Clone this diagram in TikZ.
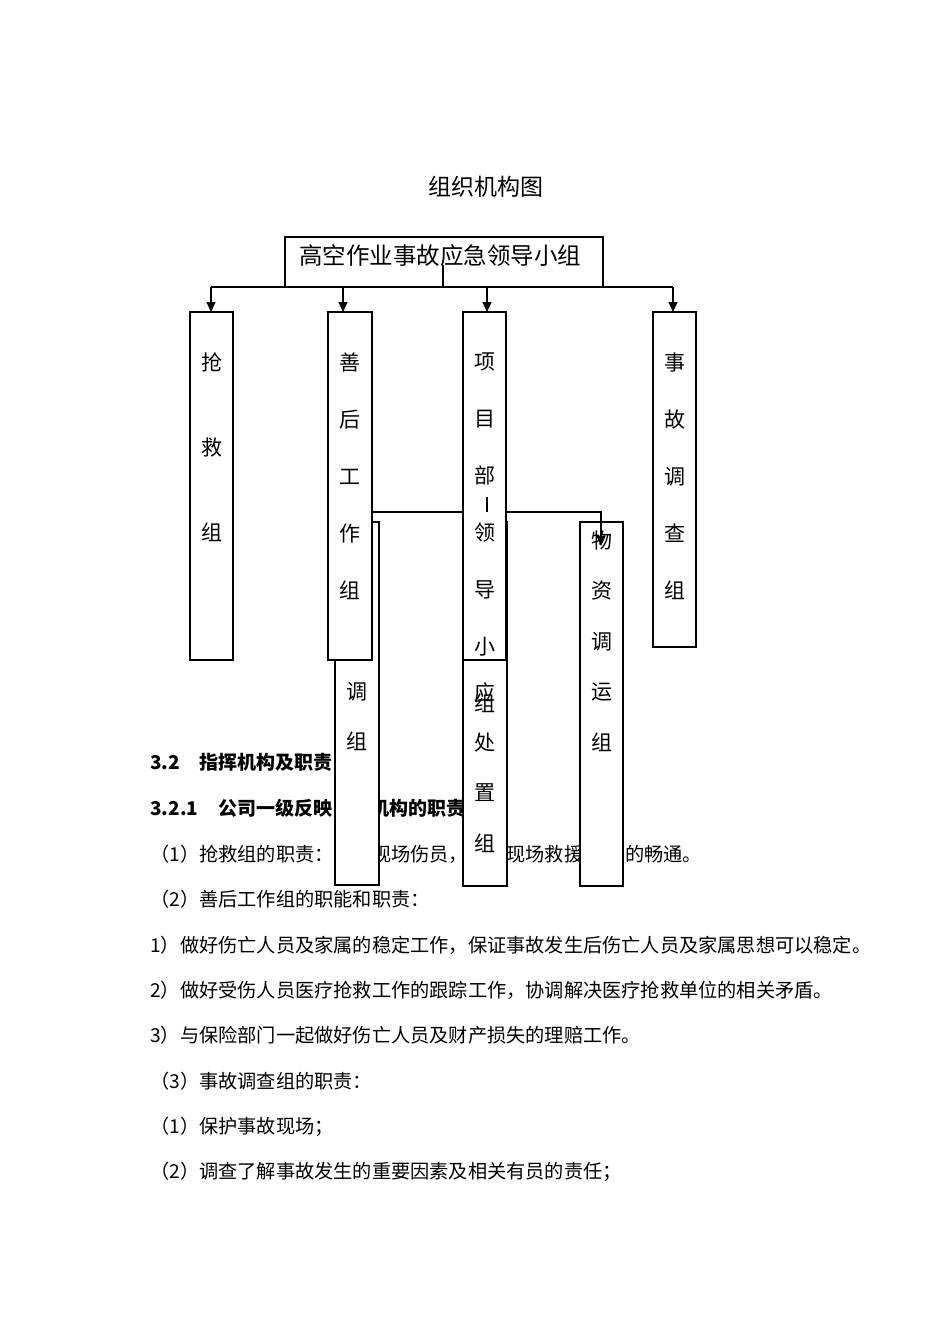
\documentclass[tikz,border=0pt]{standalone}
\usepackage{fontspec}
\setmainfont{Noto Sans CJK SC}
\usetikzlibrary{arrows.meta}
\begin{document}
\begin{tikzpicture}[x=1pt,y=-1pt,
  bx/.style={draw=black,fill=white,line width=1.1pt,inner sep=0pt,outer sep=0pt},
  vt/.style={align=center,inner sep=0pt,font=\fontsize{21}{#1}\selectfont},
  para/.style={anchor=west,inner sep=0pt,font=\fontsize{19.2}{19.2}\selectfont},
  head/.style={anchor=west,inner sep=0pt,font=\bfseries\fontsize{19}{19}\selectfont},
  ln/.style={line width=1.1pt},
  arr/.style={line width=1.1pt,-{Triangle[length=10pt,width=9pt]}}]
\useasboundingbox (0,0) rectangle (950,1344);

% title
\node[inner sep=0pt,font=\fontsize{23}{23}\selectfont] (title) at (486,187) {组织机构图};

% paragraph text
\node[head] (h1) at (150,762) {3.2\hspace{19pt}指挥机构及职责};
\node[head] (h2) at (150,808) {3.2.1\hspace{20pt}公司一级反映\phantom{应急}机构的职责};
\node[para] (p1) at (150,854) {（1）抢救组的职责：\phantom{救护}现场伤员，\phantom{保证}现场救援\hspace{42pt}的畅通。};
\node[para] (p2) at (150,899) {（2）善后工作组的职能和职责：};
\node[para] (p3) at (150,945) {1）做好伤亡人员及家属的稳定工作，保证事故发生后伤亡人员及家属思想可以稳定。};
\node[para] (p4) at (150,990) {2）做好受伤人员医疗抢救工作的跟踪工作，协调解决医疗抢救单位的相关矛盾。};
\node[para] (p5) at (150,1035) {3）与保险部门一起做好伤亡人员及财产损失的理赔工作。};
\node[para] (p6) at (150,1081) {（3）事故调查组的职责：};
\node[para] (p7) at (150,1127) {（1）保护事故现场；};
\node[para] (p8) at (150,1172) {（2）调查了解事故发生的重要因素及相关有员的责任；};

% lower boxes
\node[bx,minimum width=44pt,minimum height=363pt] (xtz) at (357,703.5) {};
\node[vt=50] (xtzt) at (357,717) {调\\组};
\node[bx,minimum width=44pt,minimum height=364pt] (yjcz) at (485,704) {};
\node[vt=50.3] (yjczt) at (485,767.5) {应\\处\\置\\组};
\node[bx,minimum width=43pt,minimum height=364pt] (wzdy) at (601.5,704) {};
\node[vt=50.5] (wzdyt) at (601.5,641) {物\\资\\调\\运\\组};

% upper boxes
\node[bx,minimum width=43pt,minimum height=348pt] (qjz) at (211.5,486) {};
\node[vt=85] (qjzt) at (211.5,447) {抢\\救\\组};
\node[bx,minimum width=44pt,minimum height=348pt] (shz) at (350,486) {};
\node[vt=57] (shzt) at (350,476) {善\\后\\工\\作\\组};
\node[bx,minimum width=43pt,minimum height=348pt] (xmb) at (484.5,486) {};
\node[vt=57] (xmbt) at (484.5,533) {项\\目\\部\\领\\导\\小\\组};
\node[bx,minimum width=43pt,minimum height=335pt] (sgd) at (674.5,479.5) {};
\node[vt=57] (sgdt) at (674.5,476) {事\\故\\调\\查\\组};

% top box
\node[bx,minimum width=318pt,minimum height=50pt] (top) at (444,262) {};
\node[inner sep=0pt,font=\fontsize{23.5}{23.5}\selectfont] (topt) at (440,256) {高空作业事故应急领导小组};

% connectors
\coordinate (ts) at (443,265);
\coordinate (b0) at (443,287);
\coordinate (b1) at (211,287);
\coordinate (b2) at (343,287);
\coordinate (b3) at (487,287);
\coordinate (b4) at (673,287);
\draw[ln] (ts) -- (b0);
\draw[ln] (b1) -- (b4);
\draw[arr] (b1) -- (b1 |- qjz.north);
\draw[arr] (b2) -- (b2 |- shz.north);
\draw[arr] (b3) -- (b3 |- xmb.north);
\draw[arr] (b4) -- (b4 |- sgd.north);

\coordinate (m0) at (487,497);
\coordinate (m1) at (487,512);
\coordinate (m2) at (601,512);
\coordinate (m3) at (601,546);
\draw[ln] (m0) -- (m1);
\draw[ln] (shz.east |- m1) -- (xmb.west |- m1);
\draw[arr] (xmb.east |- m1) -- (m2) -- (m3);
\end{tikzpicture}
\end{document}
